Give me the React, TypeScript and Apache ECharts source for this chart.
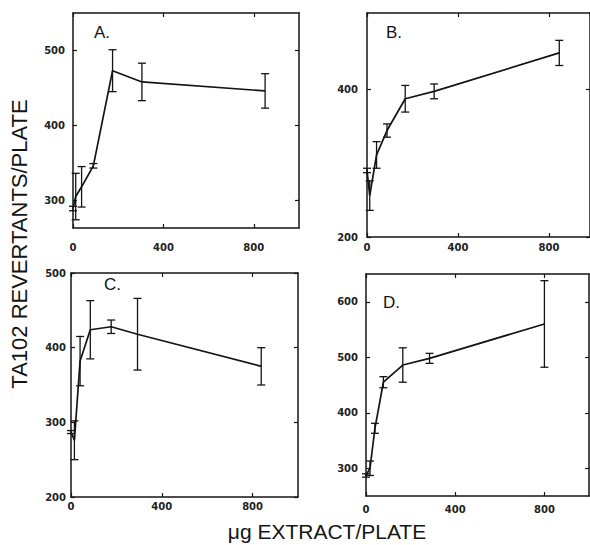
import React, { useEffect, useRef } from "react";
import * as echarts from "echarts";

// ---- data ----
const doseA = [0, 12, 38, 90, 175, 305, 850];
const meanA = [289, 305, 318, 346, 473, 458, 446];
const errA = [3, 31, 27, 3, 28, 25, 23];

const doseB = [0, 12, 42, 88, 168, 295, 845];
const meanB = [290, 256, 311, 344, 387, 397, 449];
const errB = [3, 20, 18, 9, 18, 10, 17];

const doseC = [0, 15, 40, 85, 177, 293, 838];
const meanC = [287, 276, 382, 424, 428, 418, 375];
const errC = [2, 26, 33, 39, 9, 48, 25];

const doseD = [0, 18, 40, 78, 165, 285, 800];
const meanD = [287, 300, 372, 455, 486, 498, 560];
const errD = [3, 13, 9, 10, 31, 9, 78];

const xTicks = [0, 400, 800];
const yTicksA = [300, 400, 500];
const yTicksB = [200, 400];
const yTicksC = [200, 300, 400, 500];
const yTicksD = [300, 400, 500, 600];

const panelLabels = ["A.", "B.", "C.", "D."];
const xTitle = "μg EXTRACT/PLATE";
const yTitle = "TA102 REVERTANTS/PLATE";

const INK = "#141414";

const panels = [
  { dose: doseA, mean: meanA, err: errA, yTicks: yTicksA, grid: { left: 73, top: 13, width: 226, height: 215 }, xMax: 1000, yMin: 263, yMax: 550, xLabelMargin: 14, yLabelMargin: 8, label: { x: 94, y: 32 } },
  { dose: doseB, mean: meanB, err: errB, yTicks: yTicksB, grid: { left: 367, top: 13, width: 223, height: 224 }, xMax: 980, yMin: 200, yMax: 503, xLabelMargin: 5, yLabelMargin: 9, label: { x: 386, y: 32 } },
  { dose: doseC, mean: meanC, err: errC, yTicks: yTicksC, grid: { left: 71, top: 273, width: 227, height: 224 }, xMax: 1000, yMin: 200, yMax: 500, xLabelMargin: 4, yLabelMargin: 5, label: { x: 104, y: 284 } },
  { dose: doseD, mean: meanD, err: errD, yTicks: yTicksD, grid: { left: 366, top: 274, width: 223, height: 222 }, xMax: 1000, yMin: 250, yMax: 650, xLabelMargin: 8, yLabelMargin: 8, label: { x: 383, y: 302 } },
];

const tickFont = {
  fontFamily: "DejaVu Sans",
  fontWeight: "bold" as const,
  fontSize: 10,
  color: "#222",
};

export default function App() {
  const ref = useRef<HTMLDivElement>(null);

  useEffect(() => {
    if (!ref.current) return;
    const chart = echarts.init(ref.current, undefined, { renderer: "svg" });

    const grids: any[] = [];
    const xAxes: any[] = [];
    const yAxes: any[] = [];
    const series: any[] = [];
    const graphics: any[] = [];

    panels.forEach((p, i) => {
      grids.push({ ...p.grid, containLabel: false });
      const axisLine = { show: true, onZero: false, lineStyle: { color: INK, width: 1.5 } };
      const tick = (vals: number[]) => ({ show: true, inside: true, length: 4, customValues: vals, lineStyle: { color: INK, width: 1.2 } });
      xAxes.push({
        type: "value", gridIndex: i, min: 0, max: p.xMax, position: "bottom",
        axisLine, axisTick: tick(xTicks), splitLine: { show: false },
        axisLabel: { ...tickFont, margin: p.xLabelMargin, customValues: xTicks },
      });
      xAxes.push({
        type: "value", gridIndex: i, min: 0, max: p.xMax, position: "top",
        axisLine, axisTick: tick(xTicks), splitLine: { show: false },
        axisLabel: { show: false },
      });
      yAxes.push({
        type: "value", gridIndex: i, min: p.yMin, max: p.yMax, position: "left",
        axisLine, axisTick: tick(p.yTicks), splitLine: { show: false },
        axisLabel: { ...tickFont, margin: p.yLabelMargin, customValues: p.yTicks },
      });
      yAxes.push({
        type: "value", gridIndex: i, min: p.yMin, max: p.yMax, position: "right",
        axisLine, axisTick: tick(p.yTicks), splitLine: { show: false },
        axisLabel: { show: false },
      });

      const xi = i * 2;
      const yi = i * 2;
      series.push({
        type: "line",
        xAxisIndex: xi,
        yAxisIndex: yi,
        data: p.dose.map((d, k) => [d, p.mean[k]]),
        showSymbol: false,
        symbol: "none",
        lineStyle: { color: INK, width: 1.7 },
        z: 3,
      });
      series.push({
        type: "custom",
        xAxisIndex: xi,
        yAxisIndex: yi,
        data: p.dose.map((d, k) => [d, p.mean[k] - p.err[k], p.mean[k] + p.err[k]]),
        encode: { x: 0, y: [1, 2] },
        renderItem: (_params: any, api: any) => {
          const x = api.value(0);
          const lo = api.coord([x, api.value(1)]);
          const hi = api.coord([x, api.value(2)]);
          const w = 4;
          const st = { stroke: INK, lineWidth: 1.3 };
          return {
            type: "group",
            children: [
              { type: "line", shape: { x1: lo[0], y1: lo[1], x2: hi[0], y2: hi[1] }, style: st },
              { type: "line", shape: { x1: lo[0] - w, y1: lo[1], x2: lo[0] + w, y2: lo[1] }, style: st },
              { type: "line", shape: { x1: hi[0] - w, y1: hi[1], x2: hi[0] + w, y2: hi[1] }, style: st },
            ],
          };
        },
        z: 4,
      });

      graphics.push({
        type: "text",
        x: p.label.x,
        y: p.label.y,
        style: {
          text: panelLabels[i],
          fontFamily: "Liberation Sans",
          fontSize: 17,
          fill: INK,
          align: "left",
          verticalAlign: "middle",
        },
      });
    });

    graphics.push({
      type: "text",
      x: 19,
      y: 244,
      rotation: Math.PI / 2,
      style: {
        text: yTitle,
        fontFamily: "Liberation Sans",
        fontSize: 22,
        fill: INK,
        align: "center",
        verticalAlign: "middle",
      },
    });
    graphics.push({
      type: "text",
      x: 327,
      y: 531,
      style: {
        text: xTitle,
        fontFamily: "Liberation Sans",
        fontSize: 21,
        fill: INK,
        align: "center",
        verticalAlign: "middle",
      },
    });

    chart.setOption({
      animation: false,
      backgroundColor: "#ffffff",
      grid: grids,
      xAxis: xAxes,
      yAxis: yAxes,
      series,
      graphic: graphics,
    });

    return () => chart.dispose();
  }, []);

  return (
    <div
      ref={ref}
      style={{ position: "fixed", left: 0, top: 0, width: 590, height: 545, background: "#fff" }}
    />
  );
}
